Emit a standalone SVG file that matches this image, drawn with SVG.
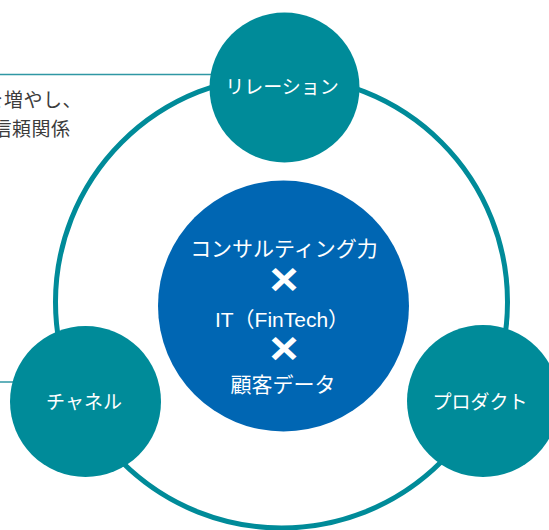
<svg xmlns="http://www.w3.org/2000/svg" width="549" height="530" viewBox="0 0 549 530">
  <style>
    .ring { fill: none; stroke: #008b99; stroke-width: 5; }
    .lead { fill: none; stroke: #2f97a4; stroke-width: 1.5; }
    .node { fill: #008b99; }
    .core { fill: #0066b3; }
    .label { fill: #ffffff; font-family: "Noto Sans CJK JP", "Noto Sans", sans-serif; font-size: 19px; text-anchor: middle; }
    .core-text { fill: #ffffff; font-family: "Liberation Sans", "Noto Sans CJK JP", sans-serif; font-size: 21px; text-anchor: middle; }
    .times { fill: #ffffff; font-family: "Liberation Sans", sans-serif; font-size: 46px; font-weight: bold; text-anchor: middle; }
    .body { fill: #3c3c3c; font-family: "Noto Sans CJK JP", sans-serif; font-size: 19px; letter-spacing: 0.5px; }
  </style>

  <!-- leader lines and the surrounding cycle -->
  <g id="connectors">
    <line class="lead" x1="0" y1="74.5" x2="214" y2="74.5"/>
    <line class="lead" x1="0" y1="382" x2="14" y2="382"/>
    <circle class="ring" cx="281.5" cy="302" r="226"/>
  </g>

  <!-- side text, continuing from the left -->
  <g id="note">
    <text class="body" x="-15.5" y="107">を増やし、</text>
    <text class="body" x="-7.5" y="136">信頼関係</text>
  </g>

  <g id="core">
    <circle class="core" cx="283.5" cy="306" r="125.5"/>
    <text class="core-text" x="284" y="256">コンサルティング力</text>
    <text class="times" transform="translate(284,295) scale(1.08,1)">×</text>
    <text class="core-text" x="282" y="327" font-size="22.5">IT（FinTech）</text>
    <text class="times" transform="translate(284,364) scale(1.08,1)">×</text>
    <text class="core-text" x="283" y="392">顧客データ</text>
  </g>

  <g id="relation">
    <circle class="node" cx="284.5" cy="87.5" r="75"/>
    <text class="label" x="282" y="94">リレーション</text>
  </g>

  <g id="channel">
    <circle class="node" cx="85.5" cy="401.5" r="75.5"/>
    <text class="label" x="84" y="409">チャネル</text>
  </g>

  <g id="product">
    <circle class="node" cx="483" cy="401" r="76"/>
    <text class="label" x="480" y="409">プロダクト</text>
  </g>
</svg>
